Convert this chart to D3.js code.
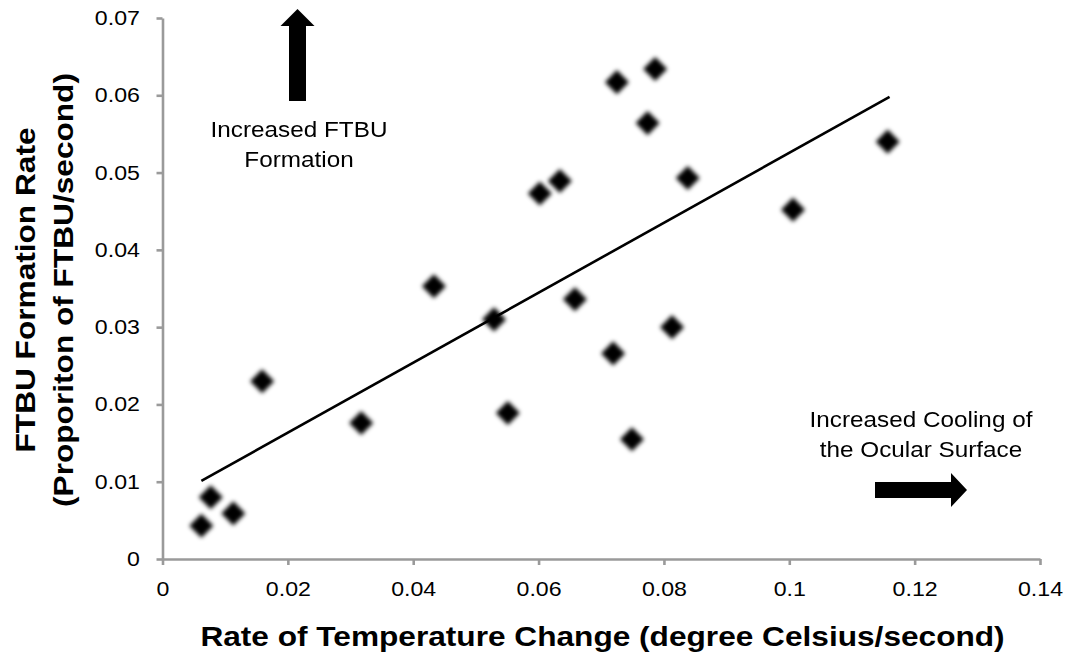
<!DOCTYPE html>
<html><head><meta charset="utf-8">
<script src="https://cdn.jsdelivr.net/npm/d3@7"></script>
<style>html,body{margin:0;padding:0;background:#fff;}svg{display:block;font-family:"Liberation Sans",Arial,sans-serif;}</style>
</head><body><svg id="c" width="1070" height="657"></svg>
<script>
const xVals = [0.0062,0.0077,0.0113,0.0159,0.0317,0.0433,0.0529,0.0551,0.0602,0.0634,0.0658,0.0719,0.0725,0.0749,0.0774,0.0786,0.0813,0.0838,0.1006,0.1157];
const yVals = [0.0043,0.0080,0.0059,0.0230,0.0176,0.0353,0.0310,0.0189,0.0473,0.0489,0.0336,0.0266,0.0617,0.0155,0.0564,0.0634,0.0300,0.0493,0.0452,0.0540];
const trendX = [0.0062,0.1160];
const trendY = [0.0101,0.0598];
const xTicks = [0,0.02,0.04,0.06,0.08,0.1,0.12,0.14];
const yTicks = [0,0.01,0.02,0.03,0.04,0.05,0.06,0.07];
const xTitle = "Rate of Temperature Change (degree Celsius/second)";
const yTitle1 = "FTBU Formation Rate";
const yTitle2 = "(Proporiton of FTBU/second)";
const noteUp = ["Increased FTBU","Formation"];
const noteRight = ["Increased Cooling of","the Ocular Surface"];

const svg = d3.select("#c");
const L=162.5,R=1040,T=18,B=559;
const SX=1.13;
const x = d3.scaleLinear().domain([0,0.14]).range([L,R]);
const y = d3.scaleLinear().domain([0,0.07]).range([B,T]);
const axisColor="#9a9a9a";

const defs = svg.append("defs");
defs.append("filter").attr("id","blur").attr("x","-50%").attr("y","-50%").attr("width","200%").attr("height","200%")
  .append("feGaussianBlur").attr("stdDeviation",2);

const fmt = d => d===0?"0":String(+d.toFixed(2));
const gx = svg.append("g").attr("transform",`translate(0,${B})`)
  .call(d3.axisBottom(x).tickValues(xTicks).tickFormat(fmt).tickSizeInner(6).tickSizeOuter(0).tickPadding(16));
const gy = svg.append("g").attr("transform",`translate(${L},0)`)
  .call(d3.axisLeft(y).tickValues(yTicks).tickFormat(fmt).tickSizeInner(6).tickSizeOuter(0).tickPadding(14));
[gx,gy].forEach(g=>{
  g.select(".domain").attr("stroke",axisColor).attr("stroke-width",2.6);
  g.selectAll(".tick line").attr("stroke",axisColor).attr("stroke-width",2.6);
  g.selectAll(".tick text").attr("fill","#000").attr("font-size",20.5)
    .attr("font-family","Liberation Sans, Arial, sans-serif").attr("transform",`scale(${SX},1)`);
});

// trend line
svg.append("line").attr("x1",x(trendX[0])).attr("y1",y(trendY[0])).attr("x2",x(trendX[1])).attr("y2",y(trendY[1]))
  .attr("stroke","#000").attr("stroke-width",2.6);

// points
const pts = xVals.map((v,i)=>({x:v,y:yVals[i]}));
svg.append("g").attr("filter","url(#blur)").selectAll("path").data(pts).join("path")
  .attr("d",d3.symbol().type(d3.symbolDiamond2).size(370))
  .attr("transform",d=>`translate(${x(d.x)},${y(d.y)})`)
  .attr("fill","#000");

function stext(tx,ty,rot,str,size,weight){
  svg.append("text").attr("transform",`translate(${tx},${ty}) rotate(${rot}) scale(${SX},1)`)
    .attr("text-anchor","middle").attr("font-size",size).attr("font-weight",weight||"normal")
    .attr("fill","#000").text(str);
}
// titles
stext(602.5,646,0,xTitle,28,"bold");
stext(35,290,-90,yTitle1,28,"bold");
stext(73,290,-90,yTitle2,28,"bold");

// annotations
noteUp.forEach((t,i)=>stext(299,137+i*30,0,t,21.5));
noteRight.forEach((t,i)=>stext(921,427+i*30,0,t,21.5));

// arrows
svg.append("path").attr("d","M297.5,9 L314.5,26 L306,26 L306,101 L289,101 L289,26 L280.5,26 Z").attr("fill","#000");
svg.append("path").attr("d","M875,482 L951,482 L951,473 L967,490 L951,507 L951,498 L875,498 Z").attr("fill","#000");
</script></body></html>
